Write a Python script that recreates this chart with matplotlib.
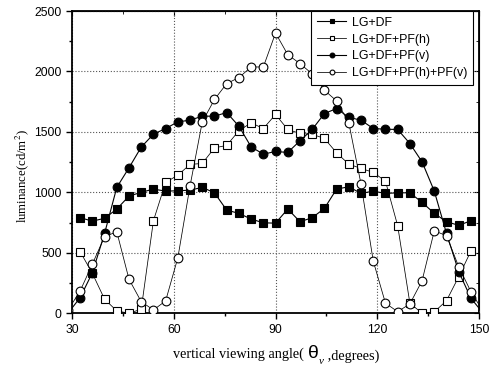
import matplotlib
matplotlib.use("Agg")
import matplotlib.pyplot as plt
from matplotlib.ticker import MultipleLocator

# viewing angles (degrees); first/last points fall just outside the axis
angle = [28.8, 32.4, 36.0, 39.6, 43.2, 46.8, 50.4, 54.0, 57.6, 61.2, 64.8, 68.4,
         72.0, 75.6, 79.2, 82.8, 86.4, 90.0, 93.6, 97.2, 100.8, 104.4, 108.0,
         111.6, 115.2, 118.8, 122.4, 126.0, 129.6, 133.2, 136.8, 140.4, 144.0,
         147.6, 151.2]

lg_df = [None, 790, 762, 785, 862, 969, 1000, 1027, 1010, 1013, 1018, 1041,
         996, 853, 826, 779, 748, 745, 862, 757, 790, 867, 1027,
         1046, 991, 1010, 991, 996, 996, 917, 826, 757, 727,
         765, None]

lg_df_pfh = [None, 509, 330, 116, 19, 0, 33, 765, 1082, 1142, 1231, 1239,
             1368, 1388, 1510, 1575, 1528, 1644, 1520, 1487, 1480, 1446, 1327,
             1233, 1198, 1165, 1093, 724, 83, 0, 11, 104, 302,
             515, None]

lg_df_pfv = [0, 129, 335, 660, 1041, 1203, 1374, 1481, 1528, 1583, 1597, 1630,
             1630, 1660, 1547, 1376, 1316, 1338, 1330, 1426, 1520, 1652, 1693,
             1620, 1597, 1528, 1522, 1520, 1404, 1252, 1010, 660, 344,
             124, 0]

lg_df_pfh_pfv = [25, 184, 407, 633, 674, 281, 96, 27, 102, 459, 1054, 1583,
                 1768, 1900, 1949, 2037, 2037, 2318, 2139, 2065, 1980, 1845, 1756,
                 1575, 1068, 432, 83, 13, 77, 269, 682, 641, 385,
                 178, 15]

labels = ["LG+DF", "LG+DF+PF(h)", "LG+DF+PF(v)", "LG+DF+PF(h)+PF(v)"]

plt.rcParams['font.family'] = ['Liberation Sans', 'DejaVu Sans']
plt.rcParams['mathtext.fontset'] = 'stix'

fig = plt.figure(figsize=(4.98, 3.72), dpi=100)
ax = fig.add_axes([0.1446, 0.158, 0.8174, 0.8124])


def clean(xs, ys):
    pts = [(x, y) for x, y in zip(xs, ys) if y is not None]
    return [p[0] for p in pts], [p[1] for p in pts]


series = [lg_df, lg_df_pfh, lg_df_pfv, lg_df_pfh_pfv]
markers = ['s', 's', 'o', 'o']
fills = ['black', 'white', 'black', 'white']
widths = [0.8, 0.55, 0.8, 0.55]
for ys, m, fc, lw, lab in zip(series, markers, fills, widths, labels):
    x, y = clean(angle, ys)
    ax.plot(x, y, color='black', lw=lw, marker=m, markersize=6.3 if m == 'o' else 5.8,
            markerfacecolor=fc, markeredgecolor='black', markeredgewidth=0.8,
            label=lab, zorder=3)

ax.set_xlim(30, 150)
ax.set_ylim(0, 2500)
ax.xaxis.set_major_locator(MultipleLocator(30))
ax.xaxis.set_minor_locator(MultipleLocator(15))
ax.yaxis.set_major_locator(MultipleLocator(500))
ax.yaxis.set_minor_locator(MultipleLocator(250))
ax.grid(True, which='major', ls=':', color='#555555', lw=0.8)

for s in ax.spines.values():
    s.set_linewidth(1.3)
ax.tick_params(which='both', direction='out', top=False, right=False, labelsize=8.7, width=1)
ax.tick_params(which='major', length=4)
ax.tick_params(which='minor', length=2.5)
sec_kw = dict(which='both', direction='in', labelsize=0)
ax2 = ax.secondary_xaxis('top')
ax2.xaxis.set_major_locator(MultipleLocator(30))
ax2.xaxis.set_minor_locator(MultipleLocator(15))
ax2.tick_params(**sec_kw)
ax2.set_xticklabels([])
ax3 = ax.secondary_yaxis('right')
ax3.yaxis.set_major_locator(MultipleLocator(500))
ax3.yaxis.set_minor_locator(MultipleLocator(250))
ax3.tick_params(**sec_kw)
ax3.set_yticklabels([])

# x label built from pieces so the theta can be larger
serif = 'Liberation Serif'
t1 = fig.text(0.348, 0.037, "vertical viewing angle( ", family=serif, fontsize=10.3,
              va='baseline')
t2 = ax.annotate("\u03b8", xy=(1, 0), xycoords=t1, xytext=(0, -0.5), textcoords='offset points',
                 family='Liberation Sans', fontsize=14, va='bottom', ha='left',
                 annotation_clip=False)
t3 = ax.annotate("v", xy=(1, 0), xycoords=t2, xytext=(0.5, -2.5), textcoords='offset points',
                 family=serif, style='italic', fontsize=8, va='bottom', ha='left',
                 annotation_clip=False)
t4 = ax.annotate(" ,degrees)", xy=(1, 0), xycoords=t3, xytext=(0, 2.2), textcoords='offset points',
                 family=serif, fontsize=10.3, va='bottom', ha='left',
                 annotation_clip=False)

ax.set_ylabel(r"luminance(cd/m$^2$)", family=serif, fontsize=9.2)
ax.yaxis.set_label_coords(-0.1, 0.455)

leg = ax.legend(loc='upper right', bbox_to_anchor=(0.985, 1.0), fontsize=8.9,
                frameon=True, fancybox=False, edgecolor='black', framealpha=1,
                handlelength=2.4, borderpad=0.45, labelspacing=0.4, handletextpad=0.45,
                borderaxespad=0, markerscale=0.55)
leg.get_frame().set_linewidth(0.8)

fig.savefig("out.png", dpi=100)
